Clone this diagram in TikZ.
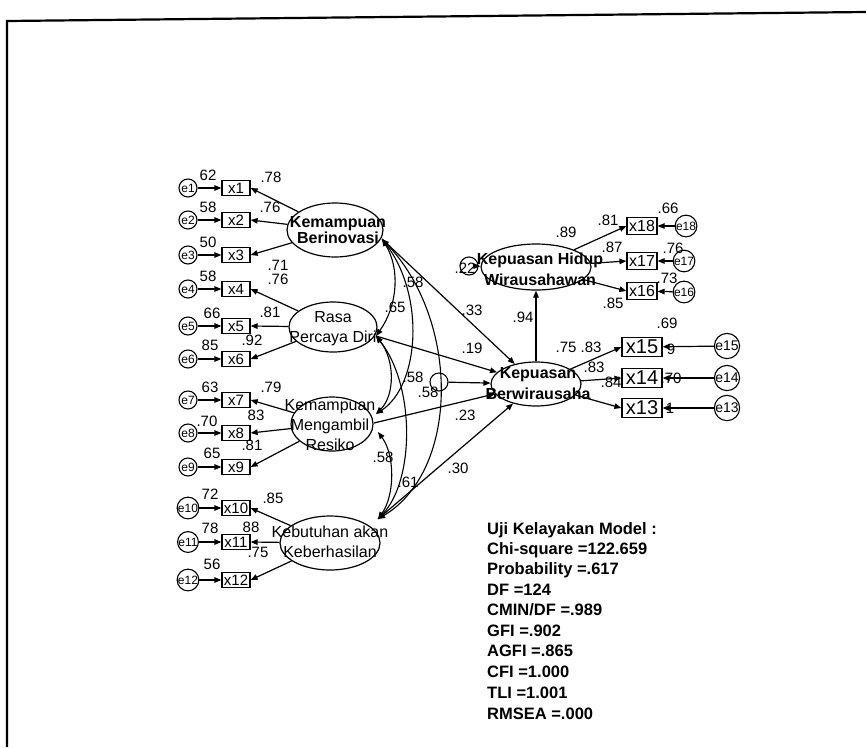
\documentclass[tikz,border=0pt]{standalone}
\usepackage{fontspec}
\setmainfont{Liberation Sans}
\usetikzlibrary{shapes.geometric,arrows.meta}
\begin{document}
\begin{tikzpicture}[x=1pt,y=-1pt,
  obs/.style={draw, line width=1.2pt, minimum width=28pt, minimum height=15pt, inner sep=0pt, font=\fontsize{15}{15}\selectfont},
  obsmid/.style={draw, line width=1.2pt, minimum width=30pt, minimum height=17pt, inner sep=0pt, font=\fontsize{16}{16}\selectfont},
  obsbig/.style={draw, line width=1.2pt, minimum width=40pt, minimum height=19pt, inner sep=0pt, font=\fontsize{20}{20}\selectfont},
  err/.style={draw, circle, line width=1.1pt, minimum size=18pt, inner sep=0pt, font=\fontsize{12}{12}\selectfont},
  errbig/.style={draw, circle, line width=1.1pt, minimum size=22pt, inner sep=0pt, font=\fontsize{14}{14}\selectfont},
  lat/.style={draw, ellipse, line width=1.2pt, inner sep=0pt},
  lattxt/.style={align=center, inner sep=0pt, font=\fontsize{16}{20}\selectfont},
  num/.style={inner sep=0pt, font=\fontsize{15}{15}\selectfont},
  stat/.style={inner sep=0pt, anchor=base west, font=\bfseries\fontsize{16.5}{20}\selectfont},
  arr/.style={-{Triangle[length=7pt,width=5.5pt]}, line width=1.2pt},
  darr/.style={{Triangle[length=7pt,width=5.5pt]}-{Triangle[length=7pt,width=5.5pt]}, line width=1.1pt}
]
\useasboundingbox (0,0) rectangle (866,747);
% frame
\draw[line width=2.2pt] (7,747) -- (7,21) -- (866,12);

% latent variables
\node[lat, minimum width=96pt, minimum height=54pt] (BI) at (335,230) {};
\node[lat, minimum width=88pt, minimum height=50pt] (PD) at (333,327) {};
\node[lat, minimum width=82pt, minimum height=54pt] (MR) at (332,424) {};
\node[lat, minimum width=100pt, minimum height=54pt] (KK) at (330,543) {};
\node[lat, minimum width=110pt, minimum height=46pt] (KH) at (536,267) {};
\node[lat, minimum width=90pt, minimum height=44pt] (KB) at (536,384) {};

\node[lattxt, font=\bfseries\fontsize{16}{16}\selectfont] (BIt) at (338,230) {Kemampuan\\Berinovasi};
\node[lattxt] (PDt) at (333,329) {Rasa\\Percaya Diri};
\node[lattxt] (MRt) at (330,425) {Kemampuan\\Mengambil\\Resiko};
\node[lattxt] (KKt) at (330,542) {Kebutuhan akan\\Keberhasilan};
\node[lattxt, font=\bfseries\fontsize{16}{21}\selectfont] (KHt) at (540,269) {Kepuasan Hidup\\Wirausahawan};
\node[lattxt, font=\bfseries\fontsize{16}{21}\selectfont] (KBt) at (538,384) {Kepuasan\\Berwirausaha};

% left indicators
\foreach \i/\y in {1/188,2/220,3/255,4/289,5/326,6/359,7/400,8/433,9/467,10/508,11/542,12/580}{
  \node[obs] (x\i) at (236,\y) {x\i};
  \node[err] (e\i) at (188,\y) {e\i};
  \draw[arr] (e\i) -- (x\i);
}
\foreach \i in {1,2,3}{\draw[arr] (BI) -- (x\i.east);}
\foreach \i in {4,5,6}{\draw[arr] (PD) -- (x\i.east);}
\foreach \i in {7,8,9}{\draw[arr] (MR) -- (x\i.east);}
\foreach \i in {10,11,12}{\draw[arr] (KK) -- (x\i.east);}

% right indicators of Kepuasan Hidup
\node[obsmid] (x18) at (642,226) {x18};
\node[obsmid] (x17) at (642,261) {x17};
\node[obsmid] (x16) at (642,291) {x16};
\node[err] (e18) at (686,226) {e18};
\node[err] (e17) at (684,261) {e17};
\node[err] (e16) at (684,292) {e16};
\foreach \i in {16,17,18}{\draw[arr] (KH) -- (x\i.west); \draw[arr] (e\i) -- (x\i);}

% right indicators of Kepuasan Berwirausaha
\node[obsbig] (x15) at (642,347) {x15};
\node[obsbig] (x14) at (642,378) {x14};
\node[obsbig] (x13) at (642,408) {x13};
\node[errbig] (e15) at (727,346) {e15};
\node[errbig] (e14) at (727,378) {e14};
\node[errbig] (e13) at (727,408) {e13};
\foreach \i in {13,14,15}{\draw[arr] (KB) -- (x\i.west); \draw[arr] (e\i) -- (x\i);}

% disturbances
\node[err] (z2) at (469,266) {};
\node[err] (z1) at (439,382) {};
\draw[arr] (z2) -- (KH);
\draw[arr] (z1) -- (KB);

% structural paths
\coordinate (biR) at (382,239);
\coordinate (pdR) at (376,336);
\coordinate (mrR1) at (376,414);
\coordinate (mrR) at (374,423);
\coordinate (mrR2) at (378,432);
\coordinate (kkR) at (378,519);
\draw[arr] (biR) -- (KB);
\draw[arr] (pdR) -- (KB);
\draw[arr] (mrR) -- (KB);
\draw[arr] (kkR) -- (KB);
\draw[arr] (KB) -- (KH);

% covariances
\draw[darr] (biR) .. controls (400,268) and (398,305) .. (pdR);
\draw[darr] (biR) .. controls (425,295) and (420,385) .. (mrR1);
\draw[darr] (biR) .. controls (460,320) and (460,470) .. (kkR);
\draw[darr] (pdR) .. controls (395,360) and (395,395) .. (mrR1);
\draw[darr] (pdR) .. controls (415,385) and (415,480) .. (kkR);
\draw[darr] (mrR2) .. controls (395,455) and (395,495) .. (kkR);

% numeric labels
\foreach \t/\x/\y [count=\k] in {
  62/208/175, 58/208/207, 50/208/242, 58/208/276, 66/212/313, 85/210/345,
  63/210/387, .70/207/421, 65/212/453, 72/210/494, 78/210/528, 56/212/564,
  .78/271/177, .76/270/207, .71/278/265, .76/278/279, .81/270/312, .92/252/340,
  .79/271/387, 83/256/415, .81/252/445, .85/273/498, 88/251/527, .75/258/552,
  .65/395/307, .58/413/282, .58/413/377, .58/428/392, .58/383/457, .61/408/482,
  .33/472/310, .19/472/348, .23/465/415, .30/458/468, .94/523/317,
  .89/566/232, .81/608/220, .87/612/247, .85/613/303, .66/668/208, .76/673/248,
  .73/667/278, .22/465/268,
  .75/566/347, .83/591/347, .83/594/367, .84/611/382, .69/667/323, 9/671/349,
  .70/671/378, 1/670/408}{
  \node[num] (n\k) at (\x,\y) {\t};
}

% model fit
\node[stat] (s1) at (487,534) {Uji Kelayakan Model :};
\node[stat] (s2) at (487,554) {Chi-square =122.659};
\node[stat] (s3) at (487,574) {Probability =.617};
\node[stat] (s4) at (487,595) {DF =124};
\node[stat] (s5) at (487,615) {CMIN/DF =.989};
\node[stat] (s6) at (487,636) {GFI =.902};
\node[stat] (s7) at (487,656) {AGFI =.865};
\node[stat] (s8) at (487,677) {CFI =1.000};
\node[stat] (s9) at (487,698) {TLI =1.001};
\node[stat] (s10) at (487,719) {RMSEA =.000};
\end{tikzpicture}
\end{document}
